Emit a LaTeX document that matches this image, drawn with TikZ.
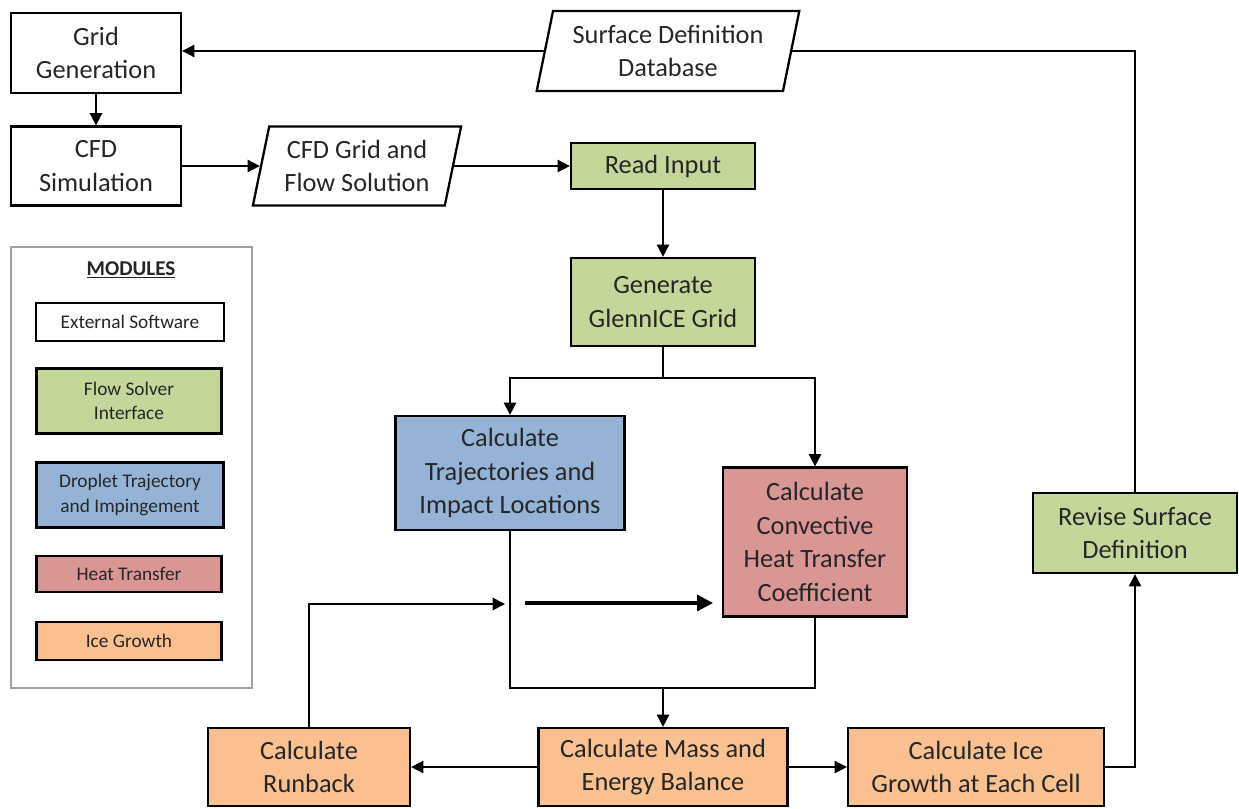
\documentclass[tikz,border=0pt]{standalone}
\usepackage{fontspec}
\setmainfont{Carlito}
\usetikzlibrary{arrows.meta,shapes.geometric}
\definecolor{cgreen}{RGB}{196,215,155}
\definecolor{cblue}{RGB}{149,179,215}
\definecolor{cred}{RGB}{218,150,148}
\definecolor{corange}{RGB}{250,192,144}
\definecolor{txt}{RGB}{38,38,38}
\definecolor{frame}{RGB}{160,160,160}
\newcommand\mainf{\fontsize{15}{19}\selectfont}
\newcommand\legf{\fontsize{11}{14}\selectfont}
\tikzset{
  box/.style={draw, line width=1.3pt, align=center, font=\mainf, text=txt, inner sep=1pt},
  para/.style={box, trapezium, trapezium left angle=76, trapezium right angle=104, trapezium stretches=true},
  leg/.style={draw, line width=1.3pt, align=center, font=\legf, text=txt, inner sep=1pt},
  arr/.style={line width=1pt, -{Triangle[length=7pt,width=7pt]}},
  ln/.style={line width=1pt},
}
\begin{document}
\begin{tikzpicture}[x=0.02cm,y=-0.02cm]
\useasboundingbox (0,0) rectangle (1239,808);
% external
\node[box, minimum width=3.4cm, minimum height=1.6cm] (gg) at (96,53) {Grid\\Generation};
\node[box, minimum width=3.4cm, minimum height=1.58cm] (cfd) at (96,166) {CFD\\Simulation};
\node[para, minimum width=4.2cm, minimum height=1.58cm] (cfdg) at (357,166) {CFD Grid and\\Flow Solution};
\node[para, minimum width=5.26cm, minimum height=1.6cm] (sdd) at (668,51) {Surface Definition\\Database};
% flow solver interface
\node[box, fill=cgreen, minimum width=3.68cm, minimum height=0.92cm] (read) at (663,166) {Read Input};
\node[box, fill=cgreen, minimum width=3.68cm, minimum height=1.76cm] (gen) at (663,302) {Generate\\GlennICE Grid};
\node[box, fill=cgreen, minimum width=4.08cm, minimum height=1.6cm] (rev) at (1135,533) {Revise Surface\\Definition};
% droplet / heat
\node[box, fill=cblue, minimum width=4.58cm, minimum height=2.28cm] (traj) at (510,473) {Calculate\\Trajectories and\\Impact Locations};
\node[box, fill=cred, minimum width=3.68cm, minimum height=2.98cm] (conv) at (815,542) {Calculate\\Convective\\Heat Transfer\\Coefficient};
% ice growth
\node[box, fill=corange, minimum width=4.04cm, minimum height=1.56cm] (rb) at (309,767) {Calculate\\Runback};
\node[box, fill=corange, minimum width=4.98cm, minimum height=1.56cm] (mass) at (663,767) {Calculate Mass and\\Energy Balance};
\node[box, fill=corange, minimum width=5.12cm, minimum height=1.56cm] (ice) at (976,767) {Calculate Ice\\Growth at Each Cell};
% legend
\node[draw=frame, line width=0.9pt, minimum width=4.82cm, minimum height=8.82cm] (legframe) at (131.5,467.5) {};
\node[font=\fontsize{12}{14}\selectfont\bfseries, text=txt, inner sep=1pt] (legtitle) at (131,270) {\underline{MODULES}};
\node[leg, minimum width=3.76cm, minimum height=0.76cm] (l1) at (130,322) {External Software};
\node[leg, fill=cgreen, minimum width=3.7cm, minimum height=1.3cm] (l2) at (129,401) {Flow Solver\\Interface};
\node[leg, fill=cblue, minimum width=3.74cm, minimum height=1.3cm] (l3) at (130,495) {Droplet Trajectory\\and Impingement};
\node[leg, fill=cred, minimum width=3.7cm, minimum height=0.72cm] (l4) at (129,574) {Heat Transfer};
\node[leg, fill=corange, minimum width=3.7cm, minimum height=0.76cm] (l5) at (129,641) {Ice Growth};
% connectors
\draw[arr] (sdd.west) -- (sdd.west -| gg.east);
\draw[ln] (sdd.east) -| (rev.north);
\draw[arr] (gg) -- (cfd);
\draw[arr] (cfd) -- (cfdg);
\draw[arr] (cfdg) -- (read);
\draw[arr] (read) -- (gen);
\path (gen.south) ++(0,31) coordinate (split);
\draw[ln] (gen.south) -- (split);
\draw[arr] (split) -| (traj.north);
\draw[arr] (split) -| (conv.north);
\path (traj.south) ++(0,157) coordinate (jl);
\draw[ln] (traj.south) -- (jl) -| (conv.south);
\draw[arr] (jl -| mass.north) -- (mass.north);
\coordinate (fa) at (525,603);
\coordinate (fb) at (713,603);
\draw[line width=1.8pt, -{Triangle[length=9pt,width=9pt]}] (fa) -- (fb);
\coordinate (rbend) at (505,604);
\draw[arr] (rb.north) |- (rbend);
\draw[arr] (mass) -- (rb);
\draw[arr] (mass) -- (ice);
\draw[arr] (ice.east) -| (rev.south);
\end{tikzpicture}
\end{document}
